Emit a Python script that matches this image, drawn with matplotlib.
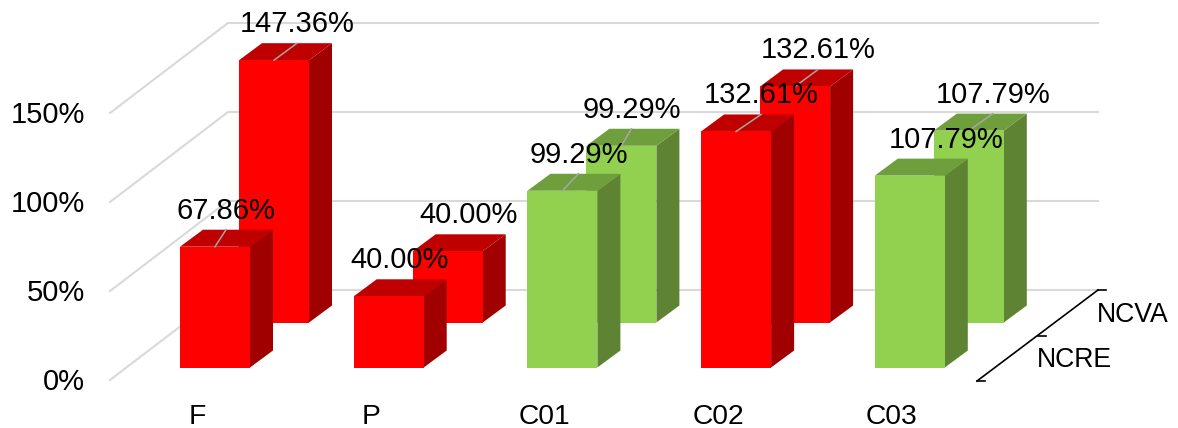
import matplotlib
matplotlib.use('Agg')
import matplotlib.pyplot as plt
from matplotlib.patches import Polygon

plt.rcParams['font.family'] = ['Liberation Sans', 'DejaVu Sans']

categories = ['F', 'P', 'C01', 'C02', 'C03']
ncre = [67.86, 40.00, 99.29, 132.61, 107.79]
ncva = [147.36, 40.00, 99.29, 132.61, 107.79]
on_target = [False, False, True, False, True]
y_ticks = [0, 50, 100, 150]
series_names = ['NCRE', 'NCVA']

# how far the label sits from the left edge of its bar
ncre_label_dx = [46, 46, 51, 60, 71]
ncva_label_dx = [58, 56, 45, 58, 59]
ncre_leader = [True, False, True, True, False]
ncva_leader = [True, False, True, True, True]

RED = ('#ff0000', '#bf0000', '#a00000')
GREEN = ('#92d050', '#6f9e3c', '#5e8433')
GRID = '#d9d9d9'

# fake 3d: value scale plus the pixel shift of one bar depth and one row
PX_PER_PCT = 1.78
FRONT_X = 180
STEP_X = 173.7
FRONT_Y = 367.5
BAR_W = 70
DEPTH_X, DEPTH_Y = 23, -17
ROW_X, ROW_Y = 59, -45
WALL_X, WALL_Y = 228, 290
FLOOR_X, FLOOR_Y = 110, 380
WALL_END = 1098

fig = plt.figure(figsize=(11.78, 4.28), dpi=100)
ax = fig.add_axes([0, 0, 1, 1])
ax.set_xlim(0, 1178)
ax.set_ylim(428, 0)
ax.axis('off')


def y_of(base, value):
    return base - value * PX_PER_PCT


def draw_bar(i, row, value, colors):
    x0 = FRONT_X + i * STEP_X + row * ROW_X
    base = FRONT_Y + row * ROW_Y
    top = y_of(base, value)
    x1 = x0 + BAR_W
    front = [(x0, base), (x1, base), (x1, top), (x0, top)]
    roof = [(x0, top), (x1, top), (x1 + DEPTH_X, top + DEPTH_Y), (x0 + DEPTH_X, top + DEPTH_Y)]
    side = [(x1, base), (x1 + DEPTH_X, base + DEPTH_Y), (x1 + DEPTH_X, top + DEPTH_Y), (x1, top)]
    ax.add_patch(Polygon(side, fc=colors[2], ec='none', zorder=3 - row))
    ax.add_patch(Polygon(roof, fc=colors[1], ec='none', zorder=3 - row))
    ax.add_patch(Polygon(front, fc=colors[0], ec='none', zorder=3 - row))


def draw_label(i, row, value, dx, leader):
    x0 = FRONT_X + i * STEP_X + row * ROW_X
    top = y_of(FRONT_Y + row * ROW_Y, value)
    if leader:
        ax.plot([x0 + BAR_W / 2, x0 + dx], [top, top + DEPTH_Y], color='#a6a6a6', lw=1.1, zorder=6)
    ax.text(x0 + dx, top - 36, f'{value:.2f}%', fontsize=21, color='black',
            ha='center', va='center', zorder=7)


# walls
for t in y_ticks:
    wall_y = y_of(WALL_Y, t)
    ax.plot([FLOOR_X, WALL_X, WALL_END], [y_of(FLOOR_Y, t), wall_y, wall_y],
            color=GRID, lw=1.5, zorder=1, solid_joinstyle='miter')
    ax.text(85, y_of(FLOOR_Y, t) + 2, f'{t}%', fontsize=21, ha='right', va='center')

for i, v in enumerate(ncva):
    draw_bar(i, 1, v, GREEN if on_target[i] else RED)
for i, v in enumerate(ncre):
    draw_bar(i, 0, v, GREEN if on_target[i] else RED)
for i, v in enumerate(ncre):
    draw_label(i, 0, v, ncre_label_dx[i], ncre_leader[i])
for i, v in enumerate(ncva):
    draw_label(i, 1, v, ncva_label_dx[i], ncva_leader[i])

for i, c in enumerate(categories):
    ax.text(FRONT_X + i * STEP_X + 17, 417, c, fontsize=20.3, ha='center', va='center')

# depth axis
ax.plot([977, 1098], [381, 290], color='black', lw=1.2, zorder=5)
ax.plot([977, 985], [381, 381], color='black', lw=1.2, zorder=5)
ax.plot([1038, 1046], [336, 336], color='black', lw=1.2, zorder=5)
ax.plot([1098, 1106], [290, 290], color='black', lw=1.2, zorder=5)
ax.text(1074, 360, series_names[0], fontsize=19.2, ha='center', va='center')
ax.text(1133, 315, series_names[1], fontsize=19.2, ha='center', va='center')

fig.savefig('out.png', dpi=100)
